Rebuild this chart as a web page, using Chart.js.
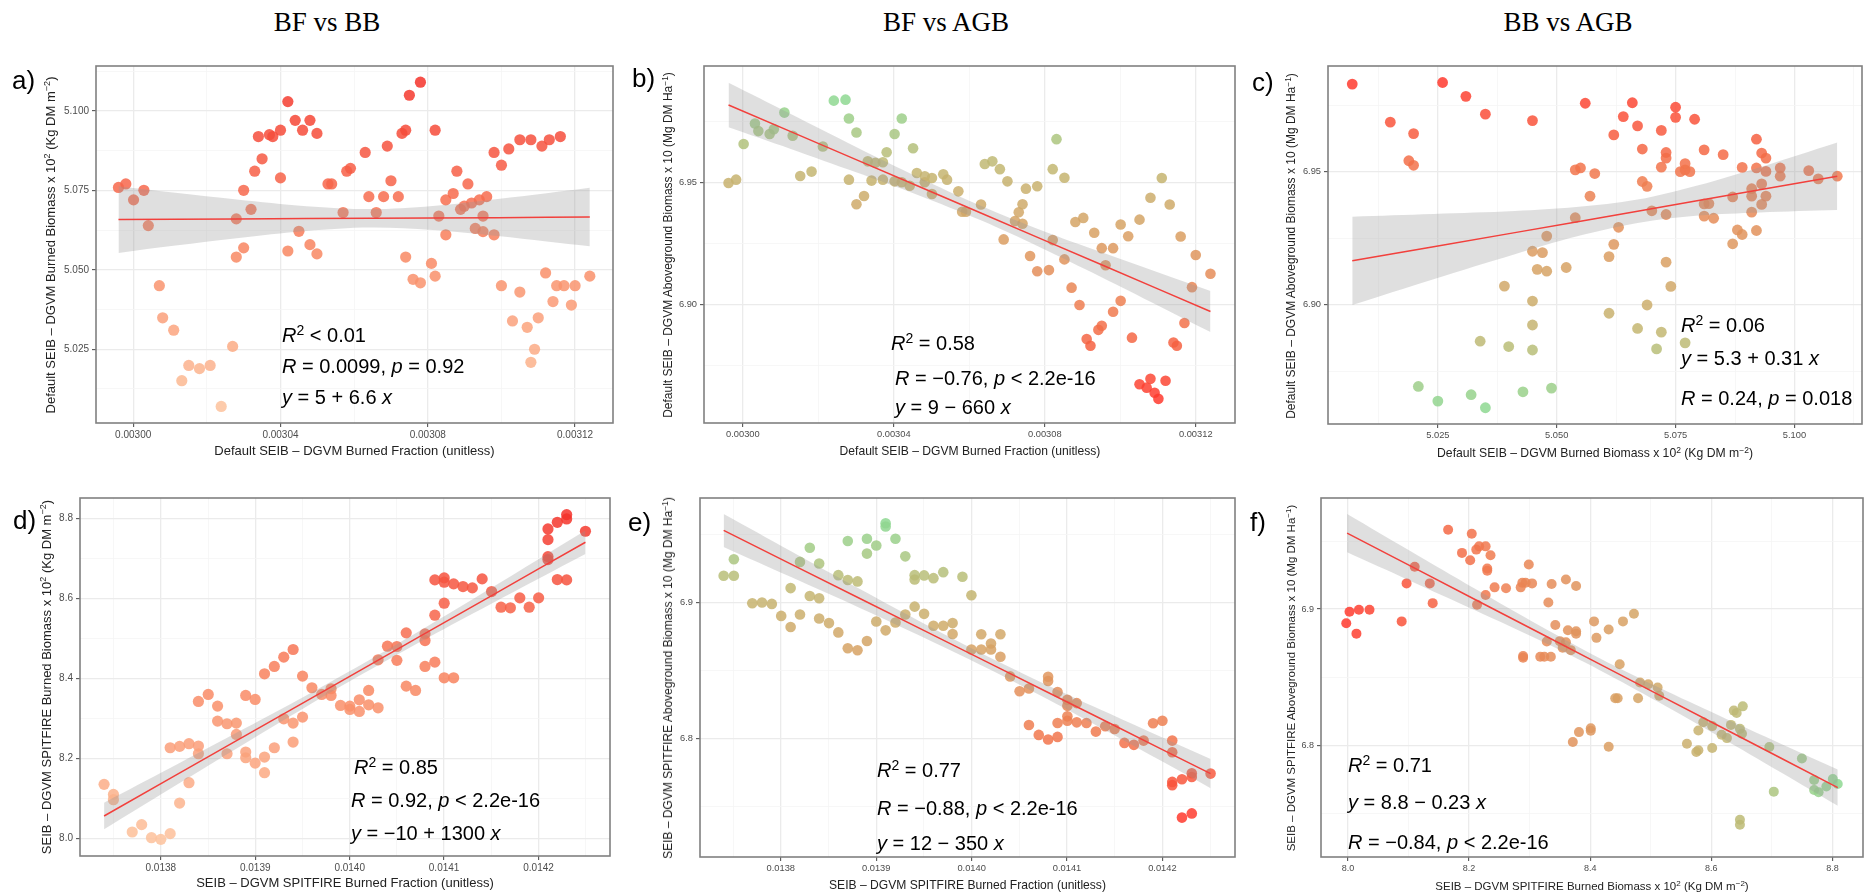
<!DOCTYPE html>
<html>
<head>
<meta charset="utf-8">
<title>SEIB-DGVM burned fraction, burned biomass and AGB</title>
<script src="https://cdn.jsdelivr.net/npm/chart.js@4.4.1/dist/chart.umd.min.js"></script>
<style>
    body { margin: 0; background: #fff; }
    #page { position: relative; width: 1870px; height: 896px; overflow: hidden; font-family: 'Liberation Sans', Arial, sans-serif; }
    canvas { position: absolute; }
    .col { position: absolute; top: 22px; transform: translate(-50%, -50%); font-family: 'Liberation Serif', 'Times New Roman', serif; font-size: 27px; color: #000; white-space: nowrap; }
    .tag { position: absolute; transform: translateY(-50%); font-size: 26px; color: #000; }
    .xt { position: absolute; transform: translate(-50%, -50%); color: #222; white-space: nowrap; }
    .yt { position: absolute; transform: translate(-50%, -50%) rotate(-90deg); color: #222; white-space: nowrap; }
    .st { position: absolute; transform: translateY(-50%); font-size: 20px; color: #000; white-space: nowrap; }
    sup { font-size: 0.7em; vertical-align: 0.45em; line-height: 0; }
</style>
</head>
<body>
<div id="page">
    <div class="col" style="left:327px">BF vs BB</div>
    <div class="col" style="left:946px">BF vs AGB</div>
    <div class="col" style="left:1568px">BB vs AGB</div>

    <div class="tag" style="left:12px;top:80px">a)</div>
    <div class="tag" style="left:632px;top:78px">b)</div>
    <div class="tag" style="left:1252px;top:82px">c)</div>
    <div class="tag" style="left:13px;top:520px">d)</div>
    <div class="tag" style="left:628px;top:522px">e)</div>
    <div class="tag" style="left:1250px;top:522px">f)</div>

    <div class="xt" style="left:354.5px;top:450px;font-size:13px">Default SEIB – DGVM Burned Fraction (unitless)</div>
    <div class="xt" style="left:970px;top:451px;font-size:12.1px">Default SEIB – DGVM Burned Fraction (unitless)</div>
    <div class="xt" style="left:1595px;top:453px;font-size:12.2px">Default SEIB – DGVM Burned Biomass x 10<sup>2</sup> (Kg DM m<sup>−2</sup>)</div>
    <div class="xt" style="left:345px;top:882px;font-size:13px">SEIB – DGVM SPITFIRE Burned Fraction (unitless)</div>
    <div class="xt" style="left:967.5px;top:885px;font-size:12.1px">SEIB – DGVM SPITFIRE Burned Fraction (unitless)</div>
    <div class="xt" style="left:1592px;top:886px;font-size:11.5px">SEIB – DGVM SPITFIRE Burned Biomass x 10<sup>2</sup> (Kg DM m<sup>−2</sup>)</div>

    <div class="yt" style="left:50px;top:245px;font-size:13px">Default SEIB – DGVM Burned Biomass x 10<sup>2</sup> (Kg DM m<sup>−2</sup>)</div>
    <div class="yt" style="left:668px;top:245px;font-size:12px">Default SEIB – DGVM Aboveground Biomass x 10 (Mg DM Ha<sup>−1</sup>)</div>
    <div class="yt" style="left:1291px;top:246px;font-size:12px">Default SEIB – DGVM Aboveground Biomass x 10 (Mg DM Ha<sup>−1</sup>)</div>
    <div class="yt" style="left:46px;top:677px;font-size:13px">SEIB – DGVM SPITFIRE Burned Biomass x 10<sup>2</sup> (Kg DM m<sup>−2</sup>)</div>
    <div class="yt" style="left:668px;top:678px;font-size:12px">SEIB – DGVM SPITFIRE Aboveground Biomass x 10 (Mg DM Ha<sup>−1</sup>)</div>
    <div class="yt" style="left:1291px;top:678px;font-size:11.5px">SEIB – DGVM SPITFIRE Aboveground Biomass x 10 (Mg DM Ha<sup>−1</sup>)</div>

    <div class="st" style="left:282px;top:335px"><i>R</i><sup>2</sup> &lt; 0.01</div>
    <div class="st" style="left:282px;top:366px"><i>R</i> = 0.0099, <i>p</i> = 0.92</div>
    <div class="st" style="left:282px;top:397px"><i>y</i> = 5 + 6.6 <i>x</i></div>

    <div class="st" style="left:891px;top:343px"><i>R</i><sup>2</sup> = 0.58</div>
    <div class="st" style="left:895px;top:378px"><i>R</i> = −0.76, <i>p</i> &lt; 2.2e-16</div>
    <div class="st" style="left:895px;top:407px"><i>y</i> = 9 − 660 <i>x</i></div>

    <div class="st" style="left:1681px;top:325px"><i>R</i><sup>2</sup> = 0.06</div>
    <div class="st" style="left:1681px;top:358px"><i>y</i> = 5.3 + 0.31 <i>x</i></div>
    <div class="st" style="left:1681px;top:398px"><i>R</i> = 0.24, <i>p</i> = 0.018</div>

    <div class="st" style="left:354px;top:767px"><i>R</i><sup>2</sup> = 0.85</div>
    <div class="st" style="left:351px;top:800px"><i>R</i> = 0.92, <i>p</i> &lt; 2.2e-16</div>
    <div class="st" style="left:351px;top:833px"><i>y</i> = −10 + 1300 <i>x</i></div>

    <div class="st" style="left:877px;top:770px"><i>R</i><sup>2</sup> = 0.77</div>
    <div class="st" style="left:877px;top:808px"><i>R</i> = −0.88, <i>p</i> &lt; 2.2e-16</div>
    <div class="st" style="left:877px;top:843px"><i>y</i> = 12 − 350 <i>x</i></div>

    <div class="st" style="left:1348px;top:765px"><i>R</i><sup>2</sup> = 0.71</div>
    <div class="st" style="left:1348px;top:802px"><i>y</i> = 8.8 − 0.23 <i>x</i></div>
    <div class="st" style="left:1348px;top:842px"><i>R</i> = −0.84, <i>p</i> &lt; 2.2e-16</div>
</div>

<script>
// a) Default BF vs BB
let aX = [0.0029960, 0.0029980, 0.0030001, 0.0030029, 0.0030041, 0.0030071, 0.0030080, 0.0030110, 0.0030132, 0.0030151,
    0.0030180, 0.0030209, 0.0030239, 0.0030270, 0.0030280, 0.0030280, 0.0030300, 0.0030300, 0.0030320, 0.0030330,
    0.0030340, 0.0030350, 0.0030370, 0.0030379, 0.0030400, 0.0030400, 0.0030420, 0.0030420, 0.0030440, 0.0030450,
    0.0030460, 0.0030480, 0.0030480, 0.0030499, 0.0030499, 0.0030529, 0.0030539, 0.0030570, 0.0030580, 0.0030590,
    0.0030630, 0.0030640, 0.0030660, 0.0030680, 0.0030690, 0.0030700, 0.0030720, 0.0030730, 0.0030740, 0.0030740,
    0.0030750, 0.0030760, 0.0030780, 0.0030780, 0.0030810, 0.0030820, 0.0030820, 0.0030830, 0.0030849, 0.0030849,
    0.0030869, 0.0030879, 0.0030889, 0.0030899, 0.0030909, 0.0030919, 0.0030929, 0.0030940, 0.0030950, 0.0030950,
    0.0030960, 0.0030980, 0.0030980, 0.0031000, 0.0031000, 0.0031020, 0.0031030, 0.0031050, 0.0031050, 0.0031070,
    0.0031080, 0.0031080, 0.0031090, 0.0031100, 0.0031110, 0.0031120, 0.0031130, 0.0031140, 0.0031150, 0.0031160,
    0.0031170, 0.0031190, 0.0031200, 0.0031240];
let aY = [5.0759, 5.0770, 5.0720, 5.0750, 5.0639, 5.0450, 5.0349, 5.0310, 5.0151, 5.0199,
    5.0189, 5.0199, 5.0070, 5.0259, 5.0540, 5.0660, 5.0569, 5.0750, 5.0690, 5.0810,
    5.0919, 5.0849, 5.0925, 5.0919, 5.0939, 5.0789, 5.1029, 5.0559, 5.0970, 5.0621,
    5.0939, 5.0970, 5.0579, 5.0929, 5.0550, 5.0770, 5.0770, 5.0680, 5.0810, 5.0819,
    5.0869, 5.0730, 5.0680, 5.0730, 5.0889, 5.0780, 5.0730, 5.0929, 5.0939, 5.0540,
    5.1049, 5.0470, 5.1090, 5.0459, 5.0520, 5.0939, 5.0480, 5.0669, 5.0720, 5.0610,
    5.0740, 5.0810, 5.0690, 5.0700, 5.0770, 5.0710, 5.0630, 5.0720, 5.0669, 5.0620,
    5.0730, 5.0869, 5.0610, 5.0829, 5.0450, 5.0880, 5.0339, 5.0909, 5.0430, 5.0319,
    5.0909, 5.0209, 5.0250, 5.0349, 5.0889, 5.0490, 5.0909, 5.0400, 5.0450, 5.0919,
    5.0450, 5.0389, 5.0450, 5.0480];
let aBandX = [0.0029960, 0.0030115, 0.0030281, 0.0030470, 0.0030645, 0.0030813, 0.0030990, 0.0031123, 0.0031240];
let aFit = [5.0658, 5.0659, 5.0660, 5.0661, 5.0662, 5.0663, 5.0664, 5.0665, 5.0666];
let aBandLo = [5.0553, 5.0576, 5.0599, 5.0622, 5.0633, 5.0625, 5.0606, 5.0589, 5.0574];
let aBandHi = [5.0763, 5.0742, 5.0721, 5.0700, 5.0691, 5.0701, 5.0723, 5.0741, 5.0758];
let aXTicks = [0.00300, 0.00304, 0.00308, 0.00312];
let aYTicks = [5.025, 5.050, 5.075, 5.100];

// b) Default BF vs AGB
let bX = [0.0029962, 0.0029982, 0.0030002, 0.0030032, 0.0030041, 0.0030071, 0.0030082, 0.0030110, 0.0030132, 0.0030152,
    0.0030182, 0.0030212, 0.0030241, 0.0030272, 0.0030281, 0.0030281, 0.0030301, 0.0030301, 0.0030321, 0.0030331,
    0.0030341, 0.0030351, 0.0030371, 0.0030371, 0.0030381, 0.0030402, 0.0030402, 0.0030421, 0.0030421, 0.0030442,
    0.0030451, 0.0030461, 0.0030482, 0.0030482, 0.0030501, 0.0030501, 0.0030531, 0.0030541, 0.0030571, 0.0030581,
    0.0030591, 0.0030631, 0.0030641, 0.0030661, 0.0030681, 0.0030691, 0.0030701, 0.0030721, 0.0030731, 0.0030741,
    0.0030741, 0.0030750, 0.0030761, 0.0030780, 0.0030780, 0.0030811, 0.0030821, 0.0030821, 0.0030831, 0.0030852,
    0.0030852, 0.0030871, 0.0030881, 0.0030892, 0.0030902, 0.0030911, 0.0030921, 0.0030931, 0.0030942, 0.0030951,
    0.0030951, 0.0030961, 0.0030981, 0.0030981, 0.0031001, 0.0031001, 0.0031021, 0.0031031, 0.0031051, 0.0031051,
    0.0031070, 0.0031080, 0.0031080, 0.0031091, 0.0031101, 0.0031110, 0.0031120, 0.0031131, 0.0031141, 0.0031150,
    0.0031160, 0.0031170, 0.0031190, 0.0031200, 0.0031239];
let bY = [6.9497, 6.9511, 6.9657, 6.9741, 6.9710, 6.9698, 6.9718, 6.9786, 6.9691, 6.9526,
    6.9544, 6.9647, 6.9835, 6.9839, 6.9762, 6.9511, 6.9704, 6.9410, 6.9444, 6.9586,
    6.9507, 6.9580, 6.9582, 6.9511, 6.9623, 6.9698, 6.9504, 6.9762, 6.9500, 6.9486,
    6.9640, 6.9538, 6.9525, 6.9500, 6.9518, 6.9452, 6.9533, 6.9511, 6.9463, 6.9379,
    6.9379, 6.9409, 6.9575, 6.9586, 6.9554, 6.9266, 6.9504, 6.9341, 6.9377, 6.9410,
    6.9330, 6.9474, 6.9198, 6.9484, 6.9135, 6.9140, 6.9554, 6.9263, 6.9677, 6.9519,
    6.9184, 6.9068, 6.9337, 6.8997, 6.9354, 6.8857, 6.8830, 6.9293, 6.8895, 6.8912,
    6.9230, 6.9160, 6.9230, 6.8969, 6.9327, 6.9014, 6.9279, 6.8863, 6.8672, 6.9347,
    6.8658, 6.8694, 6.9437, 6.8637, 6.8612, 6.9518, 6.8686, 6.9409, 6.8843, 6.8830,
    6.9278, 6.8923, 6.9070, 6.9202, 6.9125];
let bBandX = [0.0029962, 0.0030127, 0.0030300, 0.0030462, 0.0030629, 0.0030787, 0.0030949, 0.0031101, 0.0031239];
let bFit = [6.9817, 6.9708, 6.9593, 6.9486, 6.9375, 6.9270, 6.9163, 6.9062, 6.8970];
let bBandLo = [6.9726, 6.9637, 6.9541, 6.9449, 6.9345, 6.9234, 6.9112, 6.8994, 6.8886];
let bBandHi = [6.9908, 6.9780, 6.9645, 6.9523, 6.9405, 6.9306, 6.9214, 6.9130, 6.9054];
let bXTicks = [0.00300, 0.00304, 0.00308, 0.00312];
let bYTicks = [6.90, 6.95];

// c) Default BB vs AGB
let cX = [5.0070, 5.0150, 5.0199, 5.0189, 5.0199, 5.0209, 5.0250, 5.0260, 5.0309, 5.0320,
    5.0339, 5.0350, 5.0350, 5.0390, 5.0399, 5.0429, 5.0449, 5.0449, 5.0449, 5.0449,
    5.0449, 5.0459, 5.0470, 5.0479, 5.0479, 5.0489, 5.0520, 5.0539, 5.0539, 5.0550,
    5.0560, 5.0570, 5.0580, 5.0610, 5.0610, 5.0620, 5.0620, 5.0630, 5.0640, 5.0659,
    5.0670, 5.0670, 5.0680, 5.0680, 5.0690, 5.0690, 5.0700, 5.0710, 5.0720, 5.0720,
    5.0720, 5.0730, 5.0730, 5.0730, 5.0730, 5.0740, 5.0750, 5.0750, 5.0760, 5.0770,
    5.0770, 5.0770, 5.0780, 5.0790, 5.0810, 5.0810, 5.0810, 5.0820, 5.0830, 5.0850,
    5.0870, 5.0870, 5.0880, 5.0890, 5.0890, 5.0910, 5.0910, 5.0910, 5.0920, 5.0920,
    5.0920, 5.0931, 5.0931, 5.0931, 5.0940, 5.0940, 5.0940, 5.0970, 5.0970, 5.1030,
    5.1050, 5.1090];
let cY = [6.9829, 6.9686, 6.9643, 6.9541, 6.9524, 6.8693, 6.8638, 6.9835, 6.9783, 6.8662,
    6.8863, 6.9716, 6.8613, 6.9070, 6.8843, 6.8673, 6.9692, 6.9201, 6.9014, 6.8924,
    6.8830, 6.9133, 6.9196, 6.9258, 6.9126, 6.8687, 6.9140, 6.9507, 6.9327, 6.9514,
    6.9757, 6.9408, 6.9493, 6.9181, 6.8968, 6.9638, 6.9227, 6.9291, 6.9707, 6.9759,
    6.9672, 6.8911, 6.9585, 6.9463, 6.9445, 6.8999, 6.9353, 6.8834, 6.9655, 6.9517,
    6.8897, 6.9572, 6.9551, 6.9339, 6.9160, 6.9069, 6.9742, 6.9704, 6.9500, 6.9530,
    6.9507, 6.8857, 6.9500, 6.9697, 6.9582, 6.9379, 6.9333, 6.9380, 6.9325, 6.9564,
    6.9405, 6.9229, 6.9281, 6.9516, 6.9264, 6.9436, 6.9408, 6.9348, 6.9622, 6.9514,
    6.9279, 6.9570, 6.9454, 6.9377, 6.9551, 6.9501, 6.9408, 6.9514, 6.9483, 6.9504,
    6.9473, 6.9483];
let cBandX = [5.0070, 5.0241, 5.0412, 5.0541, 5.0670, 5.0798, 5.0927, 5.1090];
let cFit = [6.9165, 6.9218, 6.9271, 6.9311, 6.9351, 6.9392, 6.9432, 6.9483];
let cBandLo = [6.8999, 6.9096, 6.9190, 6.9256, 6.9307, 6.9335, 6.9347, 6.9356];
let cBandHi = [6.9331, 6.9341, 6.9352, 6.9367, 6.9395, 6.9449, 6.9517, 6.9610];
let cXTicks = [5.025, 5.050, 5.075, 5.100];
let cYTicks = [6.90, 6.95];

// d) SPITFIRE BF vs BB
let dX = [0.0137399, 0.0137498, 0.0137498, 0.0137697, 0.0137797, 0.0137901, 0.0138000, 0.0138099, 0.0138099, 0.0138199,
    0.0138199, 0.0138298, 0.0138298, 0.0138398, 0.0138398, 0.0138398, 0.0138502, 0.0138601, 0.0138601, 0.0138701,
    0.0138701, 0.0138800, 0.0138800, 0.0138899, 0.0138899, 0.0138899, 0.0138999, 0.0138999, 0.0139098, 0.0139098,
    0.0139098, 0.0139202, 0.0139202, 0.0139302, 0.0139302, 0.0139401, 0.0139401, 0.0139401, 0.0139501, 0.0139501,
    0.0139600, 0.0139704, 0.0139803, 0.0139803, 0.0139903, 0.0140002, 0.0140002, 0.0140102, 0.0140102, 0.0140201,
    0.0140201, 0.0140301, 0.0140301, 0.0140400, 0.0140500, 0.0140500, 0.0140599, 0.0140599, 0.0140698, 0.0140798,
    0.0140798, 0.0140798, 0.0140902, 0.0140902, 0.0140902, 0.0141001, 0.0141001, 0.0141001, 0.0141001, 0.0141101,
    0.0141101, 0.0141200, 0.0141299, 0.0141403, 0.0141503, 0.0141603, 0.0141702, 0.0141802, 0.0141901, 0.0142001,
    0.0142100, 0.0142100, 0.0142100, 0.0142100, 0.0142199, 0.0142199, 0.0142298, 0.0142298, 0.0142298, 0.0142497];
let dY = [8.1353, 8.1102, 8.0969, 8.0162, 8.0346, 8.0021, 7.9979, 8.0121, 8.2268, 8.2301,
    8.0886, 8.2368, 8.1394, 8.2310, 8.2118, 8.3424, 8.3599, 8.3308, 8.2933, 8.2867,
    8.2118, 8.2883, 8.2600, 8.3574, 8.2160, 8.2018, 8.3474, 8.1884, 8.4115, 8.2035,
    8.1644, 8.4298, 8.2268, 8.4531, 8.2991, 8.4722, 8.2883, 8.2409, 8.4057, 8.3033,
    8.3766, 8.3599, 8.3741, 8.3574, 8.3324, 8.3308, 8.3225, 8.3466, 8.3175, 8.3699,
    8.3341, 8.4464, 8.3266, 8.4805, 8.4797, 8.4451, 8.5138, 8.3807, 8.3699, 8.5113,
    8.4946, 8.4298, 8.6461, 8.5579, 8.4406, 8.6511, 8.6403, 8.5879, 8.4015, 8.6361,
    8.4015, 8.6295, 8.6261, 8.6486, 8.6170, 8.5779, 8.5763, 8.6012, 8.5779, 8.6012,
    8.7043, 8.6968, 8.7467, 8.7734, 8.6469, 8.7900, 8.7983, 8.8092, 8.6461, 8.7676];
let dBandX = [0.0137399, 0.0138108, 0.0138886, 0.0139535, 0.0140149, 0.0140832, 0.0141481, 0.0142000, 0.0142497];
let dFit = [8.0562, 8.1513, 8.2557, 8.3427, 8.4251, 8.5168, 8.6038, 8.6734, 8.7401];
let dBandLo = [8.0229, 8.1253, 8.2368, 8.3285, 8.4126, 8.5022, 8.5843, 8.6492, 8.7110];
let dBandHi = [8.0895, 8.1773, 8.2746, 8.3569, 8.4376, 8.5314, 8.6233, 8.6976, 8.7692];
let dXTicks = [0.0138, 0.0139, 0.0140, 0.0141, 0.0142];
let dYTicks = [8.0, 8.2, 8.4, 8.6, 8.8];

// e) SPITFIRE BF vs AGB
let eX = [0.0137401, 0.0137508, 0.0137508, 0.0137701, 0.0137803, 0.0137906, 0.0138004, 0.0138103, 0.0138103, 0.0138201,
    0.0138201, 0.0138304, 0.0138304, 0.0138402, 0.0138402, 0.0138402, 0.0138505, 0.0138603, 0.0138603, 0.0138702,
    0.0138702, 0.0138702, 0.0138804, 0.0138804, 0.0138903, 0.0138903, 0.0138903, 0.0139001, 0.0139001, 0.0139099,
    0.0139099, 0.0139099, 0.0139202, 0.0139202, 0.0139305, 0.0139305, 0.0139403, 0.0139403, 0.0139403, 0.0139502,
    0.0139502, 0.0139600, 0.0139600, 0.0139703, 0.0139703, 0.0139801, 0.0139801, 0.0139904, 0.0139998, 0.0139998,
    0.0140101, 0.0140101, 0.0140203, 0.0140203, 0.0140302, 0.0140302, 0.0140404, 0.0140503, 0.0140601, 0.0140601,
    0.0140704, 0.0140802, 0.0140802, 0.0140802, 0.0140901, 0.0140901, 0.0140901, 0.0141004, 0.0141004, 0.0141004,
    0.0141004, 0.0141102, 0.0141102, 0.0141204, 0.0141303, 0.0141401, 0.0141499, 0.0141602, 0.0141701, 0.0141803,
    0.0141902, 0.0142000, 0.0142103, 0.0142103, 0.0142103, 0.0142103, 0.0142205, 0.0142205, 0.0142308, 0.0142308,
    0.0142308, 0.0142505];
let eY = [6.9194, 6.9194, 6.9316, 6.8993, 6.8998, 6.8988, 6.8900, 6.9104, 6.8818, 6.9296,
    6.8910, 6.9400, 6.9046, 6.9284, 6.9029, 6.8881, 6.8847, 6.9199, 6.8779, 6.9449,
    6.9163, 6.8663, 6.9153, 6.8648, 6.9466, 6.9357, 6.8716, 6.9417, 6.8859, 6.9580,
    6.9556, 6.8794, 6.9466, 6.8852, 6.9337, 6.8910, 6.9199, 6.9167, 6.8968, 6.9197,
    6.8915, 6.9177, 6.8828, 6.9221, 6.8828, 6.8847, 6.8767, 6.9187, 6.9051, 6.8653,
    6.8765, 6.8653, 6.8697, 6.8653, 6.8765, 6.8600, 6.8456, 6.8347, 6.8367, 6.8100,
    6.8027, 6.8454, 6.8422, 6.7993, 6.8342, 6.8114, 6.8012, 6.8284, 6.8240, 6.8163,
    6.8131, 6.8260, 6.8119, 6.8114, 6.8051, 6.8090, 6.8070, 6.7968, 6.7954, 6.7985,
    6.8112, 6.8131, 6.7985, 6.7900, 6.7658, 6.7682, 6.7701, 6.7420, 6.7718, 6.7745,
    6.7451, 6.7743];
let eBandX = [0.0137401, 0.0138107, 0.0138834, 0.0139519, 0.0140143, 0.0140802, 0.0141444, 0.0142000, 0.0142505];
let eFit = [6.9527, 6.9280, 6.9026, 6.8786, 6.8568, 6.8338, 6.8114, 6.7919, 6.7743];
let eBandLo = [6.9406, 6.9185, 6.8957, 6.8735, 6.8524, 6.8287, 6.8045, 6.7831, 6.7636];
let eBandHi = [6.9648, 6.9375, 6.9095, 6.8837, 6.8612, 6.8390, 6.8183, 6.8007, 6.7850];
let eXTicks = [0.0138, 0.0139, 0.0140, 0.0141, 0.0142];
let eYTicks = [6.8, 6.9];

// f) SPITFIRE BB vs AGB
let fX = [7.9973, 8.0027, 8.0141, 8.0182, 8.0357, 8.0888, 8.0969, 8.1103, 8.1352, 8.1400,
    8.1655, 8.1884, 8.2019, 8.2045, 8.2120, 8.2133, 8.2167, 8.2274, 8.2274, 8.2301,
    8.2301, 8.2355, 8.2422, 8.2611, 8.2853, 8.2880, 8.2893, 8.2893, 8.2934, 8.2987,
    8.3041, 8.3176, 8.3243, 8.3284, 8.3310, 8.3351, 8.3364, 8.3425, 8.3499, 8.3546,
    8.3600, 8.3600, 8.3633, 8.3680, 8.3714, 8.3768, 8.3768, 8.3768, 8.3815, 8.4010,
    8.4010, 8.4064, 8.4104, 8.4306, 8.4306, 8.4414, 8.4454, 8.4488, 8.4542, 8.4723,
    8.4791, 8.4824, 8.4959, 8.5114, 8.5141, 8.5598, 8.5753, 8.5787, 8.5787, 8.5868,
    8.6015, 8.6015, 8.6170, 8.6258, 8.6325, 8.6372, 8.6419, 8.6473, 8.6473, 8.6473,
    8.6507, 8.6520, 8.6958, 8.7032, 8.7496, 8.7698, 8.7698, 8.7772, 8.7900, 8.8007,
    8.8088];
let fY = [6.8896, 6.8981, 6.8820, 6.8995, 6.8995, 6.8910, 6.9189, 6.9311, 6.9189, 6.9044,
    6.9583, 6.9413, 6.9359, 6.9553, 6.9437, 6.9032, 6.9461, 6.9461, 6.9104, 6.9299,
    6.9282, 6.9396, 6.9160, 6.9153, 6.9160, 6.9194, 6.8655, 6.8643, 6.9194, 6.9328,
    6.9189, 6.8650, 6.8650, 6.8762, 6.9049, 6.8650, 6.9184, 6.8883, 6.8765, 6.8716,
    6.9218, 6.8757, 6.8845, 6.8699, 6.8024, 6.9170, 6.8837, 6.8820, 6.8097, 6.8126,
    6.8107, 6.8910, 6.8789, 6.8850, 6.7990, 6.8345, 6.8345, 6.8595, 6.8910, 6.8966,
    6.8345, 6.8461, 6.8449, 6.8425, 6.8364, 6.8012, 6.7951, 6.7964, 6.8109, 6.8170,
    6.7981, 6.8141, 6.8078, 6.8053, 6.8150, 6.8255, 6.8238, 6.7454, 6.7417, 6.8121,
    6.8085, 6.8286, 6.7988, 6.7660, 6.7903, 6.7745, 6.7672, 6.7655, 6.7697, 6.7752,
    6.7716];
let fBandX = [7.9987, 8.1023, 8.2099, 8.3176, 8.4158, 8.5127, 8.6136, 8.7146, 8.8088];
let fFit = [6.9558, 6.9319, 6.9071, 6.8823, 6.8596, 6.8372, 6.8140, 6.7907, 6.7689];
let fBandLo = [6.9417, 6.9209, 6.8992, 6.8769, 6.8552, 6.8318, 6.8063, 6.7802, 6.7556];
let fBandHi = [6.9699, 6.9429, 6.9150, 6.8877, 6.8640, 6.8426, 6.8217, 6.8012, 6.7823];
let fXTicks = [8.0, 8.2, 8.4, 8.6, 8.8];
let fYTicks = [6.8, 6.9];

// colour ramps for the points: [position, r, g, b]
let warmStops = [[0, 253, 194, 156], [0.5, 248, 132, 95], [1, 245, 51, 42]];
let mixStops = [[0, 255, 58, 46], [0.3, 240, 124, 80], [0.55, 217, 160, 99], [0.78, 194, 184, 115], [1, 142, 216, 146]];

let panels = [
    { x: aX, y: aY, bandX: aBandX, fit: aFit, lo: aBandLo, hi: aBandHi, xTicks: aXTicks, yTicks: aYTicks, xDec: 5, yDec: 3,
      xMin: 0.0029899, xMax: 0.0031303, yMin: 5.0018, yMax: 5.1141, box: [96, 66, 613, 423], tickSize: 10, r: 5.6,
      stops: warmStops, by: 'y', flip: false },
    { x: bX, y: bY, bandX: bBandX, fit: bFit, lo: bBandLo, hi: bBandHi, xTicks: bXTicks, yTicks: bYTicks, xDec: 5, yDec: 2,
      xMin: 0.0029897, xMax: 0.0031304, yMin: 6.8513, yMax: 6.9977, box: [704, 66, 1235, 423], tickSize: 9.3, r: 5.3,
      stops: mixStops, by: 'y', flip: false },
    { x: cX, y: cY, bandX: cBandX, fit: cFit, lo: cBandLo, hi: cBandHi, xTicks: cXTicks, yTicks: cYTicks, xDec: 3, yDec: 2,
      xMin: 5.0019, xMax: 5.1142, yMin: 6.8552, yMax: 6.9897, box: [1328, 66, 1862, 424], tickSize: 9.3, r: 5.4,
      stops: mixStops, by: 'y', flip: true },
    { x: dX, y: dY, bandX: dBandX, fit: dFit, lo: dBandLo, hi: dBandHi, xTicks: dXTicks, yTicks: dYTicks, xDec: 4, yDec: 1,
      xMin: 0.0137144, xMax: 0.0142757, yMin: 7.9563, yMax: 8.8507, box: [80, 498, 610, 856], tickSize: 10, r: 5.6,
      stops: warmStops, by: 'y', flip: false },
    { x: eX, y: eY, bandX: eBandX, fit: eFit, lo: eBandLo, hi: eBandHi, xTicks: eXTicks, yTicks: eYTicks, xDec: 4, yDec: 1,
      xMin: 0.0137153, xMax: 0.0142761, yMin: 6.7131, yMax: 6.9765, box: [700, 498, 1235, 857], tickSize: 9.3, r: 5.3,
      stops: mixStops, by: 'y', flip: false },
    { x: fX, y: fY, bandX: fBandX, fit: fFit, lo: fBandLo, hi: fBandHi, xTicks: fXTicks, yTicks: fYTicks, xDec: 1, yDec: 1,
      xMin: 7.9556, xMax: 8.8505, yMin: 6.7180, yMax: 6.9816, box: [1321, 498, 1863, 857], tickSize: 9, r: 5,
      stops: mixStops, by: 'x', flip: false }
];

function rampColour(stops, t, alpha) {
    for (let i = 1; i < stops.length; i++) {
        if (t <= stops[i][0] || i === stops.length - 1) {
            let a = stops[i - 1], b = stops[i];
            let f = Math.min(1, Math.max(0, (t - a[0]) / (b[0] - a[0])));
            let r = Math.round(a[1] + (b[1] - a[1]) * f);
            let g = Math.round(a[2] + (b[2] - a[2]) * f);
            let bl = Math.round(a[3] + (b[3] - a[3]) * f);
            return 'rgba(' + r + ',' + g + ',' + bl + ',' + alpha + ')';
        }
    }
}

// major ticks plus the minor grid lines half way between them
function tickList(majors, min, max) {
    let step = majors[1] - majors[0];
    let list = majors.map(v => ({ value: v }));
    for (let v = majors[0] - step / 2; v <= max; v += step) {
        if (v >= min) list.push({ value: v, minor: true });
    }
    return list.sort((p, q) => p.value - q.value);
}

function axis(p, which) {
    let majors = which === 'x' ? p.xTicks : p.yTicks;
    let dec = which === 'x' ? p.xDec : p.yDec;
    return {
        type: 'linear',
        min: which === 'x' ? p.xMin : p.yMin,
        max: which === 'x' ? p.xMax : p.yMax,
        afterBuildTicks: s => { s.ticks = tickList(majors, s.min, s.max); },
        afterFit: s => { if (which === 'x') s.height = 35; else s.width = 70; },
        border: { display: false },
        grid: {
            color: c => (c.tick && c.tick.minor) ? '#f5f5f5' : '#ebebeb',
            lineWidth: c => (c.tick && c.tick.minor) ? 0.8 : 1.3,
            tickColor: c => (c.tick && c.tick.minor) ? 'rgba(0,0,0,0)' : '#444',
            tickLength: 4,
            tickWidth: 1
        },
        ticks: {
            autoSkip: false,
            maxRotation: 0,
            padding: which === 'x' ? 2 : 3,
            color: '#4d4d4d',
            font: { family: 'Liberation Sans', size: p.tickSize },
            callback: (v, i, ticks) => ticks[i].minor ? '' : Number(v).toFixed(dec)
        }
    };
}

// panel border drawn over the band edges
let framePlugin = {
    id: 'frame',
    afterDatasetsDraw(chart) {
        let a = chart.chartArea, ctx = chart.ctx;
        ctx.save();
        ctx.strokeStyle = '#808080';
        ctx.lineWidth = 1.6;
        ctx.strokeRect(a.left, a.top, a.right - a.left, a.bottom - a.top);
        ctx.restore();
    }
};

function drawPanel(p) {
    let w = p.box[2] - p.box[0] + 80, h = p.box[3] - p.box[1] + 45;
    let canvas = document.createElement('canvas');
    canvas.width = w;
    canvas.height = h;
    canvas.style.width = w + 'px';
    canvas.style.height = h + 'px';
    canvas.style.left = (p.box[0] - 70) + 'px';
    canvas.style.top = (p.box[1] - 10) + 'px';
    document.getElementById('page').insertBefore(canvas, document.getElementById('page').firstChild);

    let cv = p.by === 'x' ? p.x : p.y;
    let lo = Math.min.apply(null, cv), hi = Math.max.apply(null, cv);
    let colours = cv.map(v => {
        let t = (v - lo) / (hi - lo);
        return rampColour(p.stops, p.flip ? 1 - t : t, 0.85);
    });

    let pts = p.x.map((v, i) => ({ x: v, y: p.y[i] }));
    let loPts = p.bandX.map((v, i) => ({ x: v, y: p.lo[i] }));
    let hiPts = p.bandX.map((v, i) => ({ x: v, y: p.hi[i] }));
    let fitPts = p.bandX.map((v, i) => ({ x: v, y: p.fit[i] }));

    new Chart(canvas, {
        type: 'scatter',
        data: {
            datasets: [
                { data: pts, pointRadius: p.r, pointHoverRadius: p.r, pointBackgroundColor: colours,
                  pointBorderWidth: 0, pointBorderColor: 'rgba(0,0,0,0)', order: 4 },
                { data: loPts, showLine: true, pointRadius: 0, borderWidth: 0, borderColor: 'rgba(0,0,0,0)',
                  tension: 0.35, fill: false, order: 3 },
                { data: hiPts, showLine: true, pointRadius: 0, borderWidth: 0, borderColor: 'rgba(0,0,0,0)',
                  tension: 0.35, fill: '-1', backgroundColor: 'rgba(150,150,150,0.3)', order: 2 },
                { data: fitPts, showLine: true, pointRadius: 0, borderWidth: 1.5, borderColor: '#f2403c', order: 1 }
            ]
        },
        options: {
            responsive: false,
            animation: false,
            events: [],
            layout: { padding: { top: 10, right: 10, left: 0, bottom: 0 } },
            plugins: { legend: { display: false }, tooltip: { enabled: false } },
            scales: { x: axis(p, 'x'), y: axis(p, 'y') }
        },
        plugins: [framePlugin]
    });
}

panels.forEach(drawPanel);
</script>
</body>
</html>
